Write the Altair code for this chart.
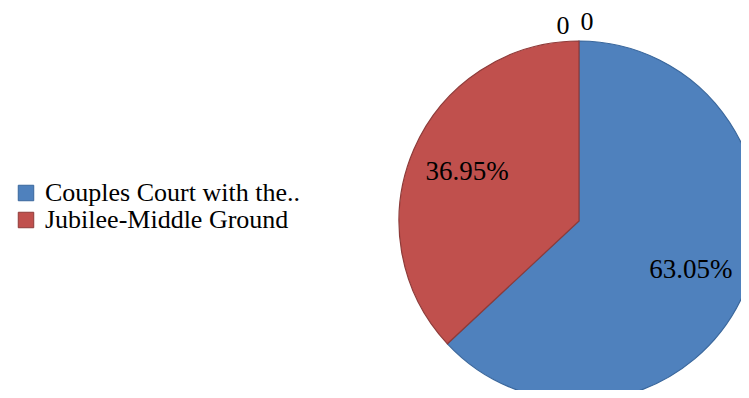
import altair as alt
import pandas as pd

categories = ["Couples Court with the..", "Jubilee-Middle Ground", "Series 3", "Series 4"]
values = [63.05, 36.95, 0, 0]
labels = ["63.05%", "36.95%", "0", "0"]
legend_categories = categories[:2]
fill_colors = ["#4F81BD", "#C0504D"]
stroke_colors = ["#3A679C", "#8E3B39"]

df = pd.DataFrame({"category": categories, "value": values, "label": labels,
                   "idx": list(range(len(categories)))})

FONT = "Liberation Serif"
CX, CY = 571, 213

base = alt.Chart(df).encode(
    theta=alt.Theta("value:Q", stack=True),
    order=alt.Order("idx:Q"),
    x=alt.value(CX),
    y=alt.value(CY),
)

arcs = base.transform_filter(alt.datum.value > 0).mark_arc(radius=180, strokeWidth=1.2).encode(
    color=alt.Color("category:N", scale=alt.Scale(domain=legend_categories, range=fill_colors),
                    legend=alt.Legend(title=None, orient="none", legendX=5, legendY=172,
                                      labelFont=FONT, labelFontSize=26, labelColor="black",
                                      symbolType="square", symbolSize=240, symbolStrokeWidth=1,
                                      labelOffset=6, rowPadding=1, padding=0, labelLimit=400)),
    stroke=alt.Stroke("category:N", scale=alt.Scale(domain=legend_categories, range=stroke_colors),
                      legend=None),
)

pct = base.transform_filter(alt.datum.value > 0).mark_text(
    radius=122, font=FONT, fontSize=27, color="black", align="center", baseline="middle"
).encode(text="label:N", detail="category:N")

zero1 = base.mark_text(radius=195, dx=-16, font=FONT, fontSize=26, color="black",
                       align="center", baseline="middle").encode(
    text=alt.condition(alt.datum.category == categories[2], alt.value("0"), alt.value("")),
    detail="category:N")
zero2 = base.mark_text(radius=199, dx=8, font=FONT, fontSize=26, color="black",
                       align="center", baseline="middle").encode(
    text=alt.condition(alt.datum.category == categories[3], alt.value("0"), alt.value("")),
    detail="category:N")

chart = alt.layer(arcs, pct, zero1, zero2).properties(
    width=733, height=382, padding=0,
    autosize=alt.AutoSizeParams(type="none"),
).configure_view(stroke=None)

chart.save("out.html", embed_options={"renderer": "svg", "actions": False})
